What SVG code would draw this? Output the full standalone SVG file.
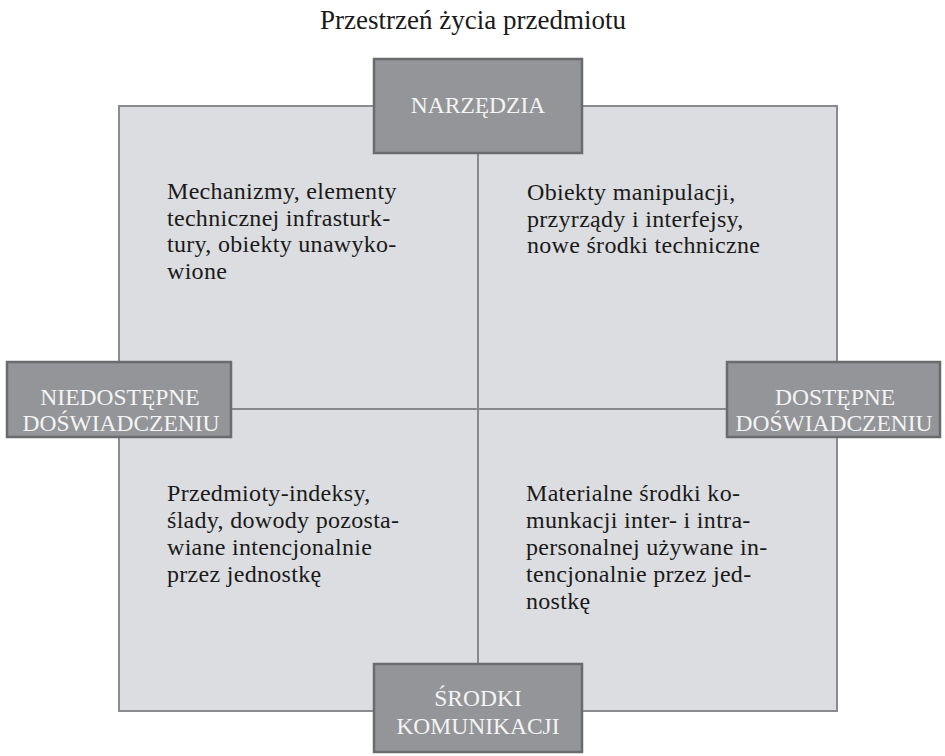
<svg xmlns="http://www.w3.org/2000/svg" width="945" height="756" viewBox="0 0 945 756">
<style>
.title{font-family:"Liberation Serif",serif;font-size:27px;fill:#1a1a1a;text-anchor:middle}
.body{font-family:"Liberation Serif",serif;font-size:24px;fill:#1a1a1a;letter-spacing:0.3px}
.lbl{font-family:"Liberation Serif",serif;font-size:23.5px;fill:#f4f4f4;text-anchor:middle}
.box{fill:#939598;stroke:#6a6b6d;stroke-width:2.5}
.div{stroke:#88898b;stroke-width:2;fill:none}
</style>
<rect width="945" height="756" fill="#ffffff"/>
<text class="title" x="473" y="29">Przestrzeń życia przedmiotu</text>
<g id="space">
<rect x="119" y="106" width="718" height="605" fill="#dcdde0" stroke="#8a8b8d" stroke-width="2"/>
</g>
<g id="connectors">
<line class="div" x1="478" y1="153" x2="478" y2="664"/>
<line class="div" x1="231" y1="409" x2="727" y2="409"/>
</g>
<g id="q1">
<text class="body" x="167" y="199">Mechanizmy, elementy</text>
<text class="body" x="167" y="225.7">technicznej infrasturk-</text>
<text class="body" x="167" y="252.4">tury, obiekty unawyko-</text>
<text class="body" x="167" y="279.1">wione</text>
</g>
<g id="q2">
<text class="body" x="527" y="200">Obiekty manipulacji,</text>
<text class="body" x="527" y="226.7">przyrządy i interfejsy,</text>
<text class="body" x="527" y="253.4">nowe środki techniczne</text>
</g>
<g id="q3">
<text class="body" x="167" y="501">Przedmioty-indeksy,</text>
<text class="body" x="167" y="528">ślady, dowody pozosta-</text>
<text class="body" x="167" y="555">wiane intencjonalnie</text>
<text class="body" x="167" y="582">przez jednostkę</text>
</g>
<g id="q4">
<text class="body" x="526" y="501">Materialne środki ko-</text>
<text class="body" x="526" y="528">munkacji inter- i intra-</text>
<text class="body" x="526" y="555">personalnej używane in-</text>
<text class="body" x="526" y="582">tencjonalnie przez jed-</text>
<text class="body" x="526" y="609">nostkę</text>
</g>
<g id="narzedzia">
<rect class="box" x="374" y="59" width="208" height="94"/>
<text class="lbl" x="478" y="113">NARZĘDZIA</text>
</g>
<g id="niedostepne">
<rect class="box" x="7" y="362" width="224" height="75"/>
<text class="lbl" x="120" y="405">NIEDOSTĘPNE</text>
<text class="lbl" x="121" y="431">DOŚWIADCZENIU</text>
</g>
<g id="dostepne">
<rect class="box" x="727" y="362" width="213" height="75"/>
<text class="lbl" x="835" y="405">DOSTĘPNE</text>
<text class="lbl" x="834" y="431">DOŚWIADCZENIU</text>
</g>
<g id="srodki">
<rect class="box" x="374" y="664" width="208" height="88"/>
<text class="lbl" x="478" y="706">ŚRODKI</text>
<text class="lbl" x="478" y="734">KOMUNIKACJI</text>
</g>
</svg>
